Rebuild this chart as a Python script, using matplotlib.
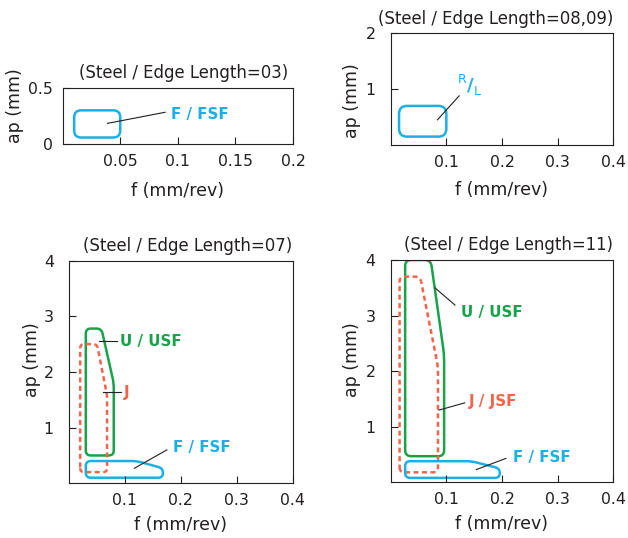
import numpy as np
import matplotlib
matplotlib.use("Agg")
import matplotlib.pyplot as plt
from matplotlib.path import Path
from matplotlib.patches import PathPatch

plt.rcParams['font.family'] = ['DejaVu Sans']

GREEN = '#17a34a'
BLUE = '#1ab0e6'
RED = '#f2654c'
INK = '#231f20'

# ---- application regions: feed f (mm/rev) vs depth of cut ap (mm) ----
# Edge length 03
el03_fsf_f = [0.01, 0.05, 0.05, 0.01]
el03_fsf_ap = [0.06, 0.06, 0.30, 0.30]

# Edge length 08,09
el08_rl_f = [0.015, 0.10, 0.10, 0.015]
el08_rl_ap = [0.15, 0.15, 0.70, 0.70]

# Edge length 07
el07_usf_f = [0.030, 0.080, 0.080, 0.058, 0.030]
el07_usf_ap = [0.50, 0.50, 1.80, 2.78, 2.78]
el07_j_f = [0.020, 0.068, 0.068, 0.050, 0.020]
el07_j_ap = [0.20, 0.20, 1.58, 2.50, 2.50]
el07_fsf_f = [0.030, 0.168, 0.168, 0.121, 0.030]
el07_fsf_ap = [0.10, 0.10, 0.27, 0.40, 0.40]

# Edge length 11
el11_usf_f = [0.026, 0.096, 0.096, 0.072, 0.026]
el11_usf_ap = [0.47, 0.47, 2.30, 4.00, 4.00]
el11_jsf_f = [0.016, 0.085, 0.085, 0.053, 0.016]
el11_jsf_ap = [0.18, 0.18, 2.08, 3.70, 3.70]
el11_fsf_f = [0.026, 0.196, 0.196, 0.145, 0.026]
el11_fsf_ap = [0.08, 0.08, 0.25, 0.38, 0.38]

titles = ['(Steel / Edge Length=03)', '(Steel / Edge Length=08,09)',
          '(Steel / Edge Length=07)', '(Steel / Edge Length=11)']
xticks_small = [0.05, 0.1, 0.15, 0.2]
xticks_large = [0.1, 0.2, 0.3, 0.4]
xtick_labels_small = ['0.05', '0.1', '0.15', '0.2']
xtick_labels_large = ['0.1', '0.2', '0.3', '0.4']

fig = plt.figure(figsize=(6.28, 5.38), dpi=100)


def make_axes(rect, xlim, ylim, xticks, xlabels, yticks, ylabels, title,
              title_x=1.0, ypad=11, xlabelpad=5.4, ylabel_xy=(-0.125, 0.5)):
    ax = fig.add_axes(rect)
    ax.set_xlim(*xlim)
    ax.set_ylim(*ylim)
    ax.set_xticks(xticks)
    ax.set_xticklabels(xlabels)
    ax.set_yticks(yticks)
    ax.set_yticklabels(ylabels)
    ax.tick_params(direction='in', length=5, width=0.8, colors=INK,
                   labelsize=11.3, top=False, right=False)
    ax.tick_params(axis='x', pad=7)
    ax.tick_params(axis='y', pad=ypad)
    for s in ax.spines.values():
        s.set_color(INK)
        s.set_linewidth(0.8)
    ax.set_xlabel('f (mm/rev)', fontsize=12.5, color=INK, labelpad=xlabelpad)
    ax.set_ylabel('ap (mm)', fontsize=12.5, color=INK)
    ax.yaxis.set_label_coords(*ylabel_xy)
    ax.set_title(title, loc='right', fontsize=11.9, color=INK, pad=7, x=title_x)
    return ax


def rounded_region(ax, xs, ys, color, radius=6, dashed=False):
    pts = ax.transData.transform(np.column_stack([xs, ys]))
    n = len(pts)
    verts, codes = [], []
    for i in range(n):
        p = pts[i]
        d1 = pts[i - 1] - p
        d2 = pts[(i + 1) % n] - p
        l1, l2 = np.hypot(*d1), np.hypot(*d2)
        r = min(radius, l1 / 2, l2 / 2)
        a = p + d1 / l1 * r
        b = p + d2 / l2 * r
        verts.append(a)
        codes.append(Path.MOVETO if i == 0 else Path.LINETO)
        verts += [p, b]
        codes += [Path.CURVE3, Path.CURVE3]
    verts.append(verts[0])
    codes.append(Path.CLOSEPOLY)
    data = ax.transData.inverted().transform(np.array(verts))
    ls = (0, (2.0, 1.4)) if dashed else '-'
    patch = PathPatch(Path(data, codes), facecolor='none', edgecolor=color,
                      lw=1.8, linestyle=ls, joinstyle='round', capstyle='butt')
    ax.add_patch(patch)


def callout(ax, text, color, p0, p1, tpos, size=10.8):
    ax.plot([p0[0], p1[0]], [p0[1], p1[1]], color=INK, lw=0.8)
    ax.text(tpos[0], tpos[1], text, color=color, fontsize=size,
            fontweight='bold', va='center', ha='left')


# Edge length 03
ax1 = make_axes([0.0998, 0.7318, 0.3667, 0.1052], (0, 0.2), (0, 0.5),
                xticks_small, xtick_labels_small, [0, 0.5], ['0', '0.5'],
                titles[0], title_x=0.98, ypad=7, xlabelpad=9.4,
                ylabel_xy=(-0.168, 0.677))
rounded_region(ax1, el03_fsf_f, el03_fsf_ap, BLUE, radius=7)
callout(ax1, 'F / FSF', BLUE, (0.039, 0.185), (0.089, 0.283), (0.094, 0.265))

# Edge length 08,09
ax2 = make_axes([0.6221, 0.7305, 0.3545, 0.2076], (0, 0.4), (0, 2),
                xticks_large, xtick_labels_large, [1, 2], ['1', '2'], titles[1],
                xlabelpad=8.3, ylabel_xy=(-0.135, 0.40))
rounded_region(ax2, el08_rl_f, el08_rl_ap, BLUE, radius=8)
ax2.plot([0.084, 0.123], [0.45, 0.88], color=INK, lw=0.8)
ax2.text(0.128, 1.17, 'R', color=BLUE, fontsize=9, ha='center', va='center')
ax2.text(0.1425, 1.066, '/', color=BLUE, fontsize=13, fontweight='bold',
         ha='center', va='center')
ax2.text(0.156, 0.96, 'L', color=BLUE, fontsize=9, ha='center', va='center')

# Edge length 07
ax3 = make_axes([0.1099, 0.1017, 0.3562, 0.4138], (0, 0.4), (0, 4),
                xticks_large, xtick_labels_large, [1, 2, 3, 4],
                ['1', '2', '3', '4'], titles[2], ylabel_xy=(-0.125, 0.554))
rounded_region(ax3, el07_usf_f, el07_usf_ap, GREEN, radius=5)
rounded_region(ax3, el07_j_f, el07_j_ap, RED, radius=4, dashed=True)
rounded_region(ax3, el07_fsf_f, el07_fsf_ap, BLUE, radius=5)
callout(ax3, 'U / USF', GREEN, (0.054, 2.56), (0.085, 2.56), (0.092, 2.55))
callout(ax3, 'J', RED, (0.060, 1.645), (0.0925, 1.645), (0.098, 1.63))
callout(ax3, 'F / FSF', BLUE, (0.117, 0.27), (0.175, 0.60), (0.186, 0.64))

# Edge length 11
ax4 = make_axes([0.6221, 0.1035, 0.3545, 0.4132], (0, 0.4), (0, 4),
                xticks_large, xtick_labels_large, [1, 2, 3, 4],
                ['1', '2', '3', '4'], titles[3], ylabel_xy=(-0.135, 0.55))
rounded_region(ax4, el11_usf_f, el11_usf_ap, GREEN, radius=6)
rounded_region(ax4, el11_jsf_f, el11_jsf_ap, RED, radius=5, dashed=True)
rounded_region(ax4, el11_fsf_f, el11_fsf_ap, BLUE, radius=5)
callout(ax4, 'U / USF', GREEN, (0.0795, 3.50), (0.1155, 3.19), (0.127, 3.05))
callout(ax4, 'J / JSF', RED, (0.087, 1.30), (0.133, 1.43), (0.140, 1.46))
callout(ax4, 'F / FSF', BLUE, (0.154, 0.23), (0.207, 0.43), (0.219, 0.44))

fig.savefig('out.png', dpi=100)
